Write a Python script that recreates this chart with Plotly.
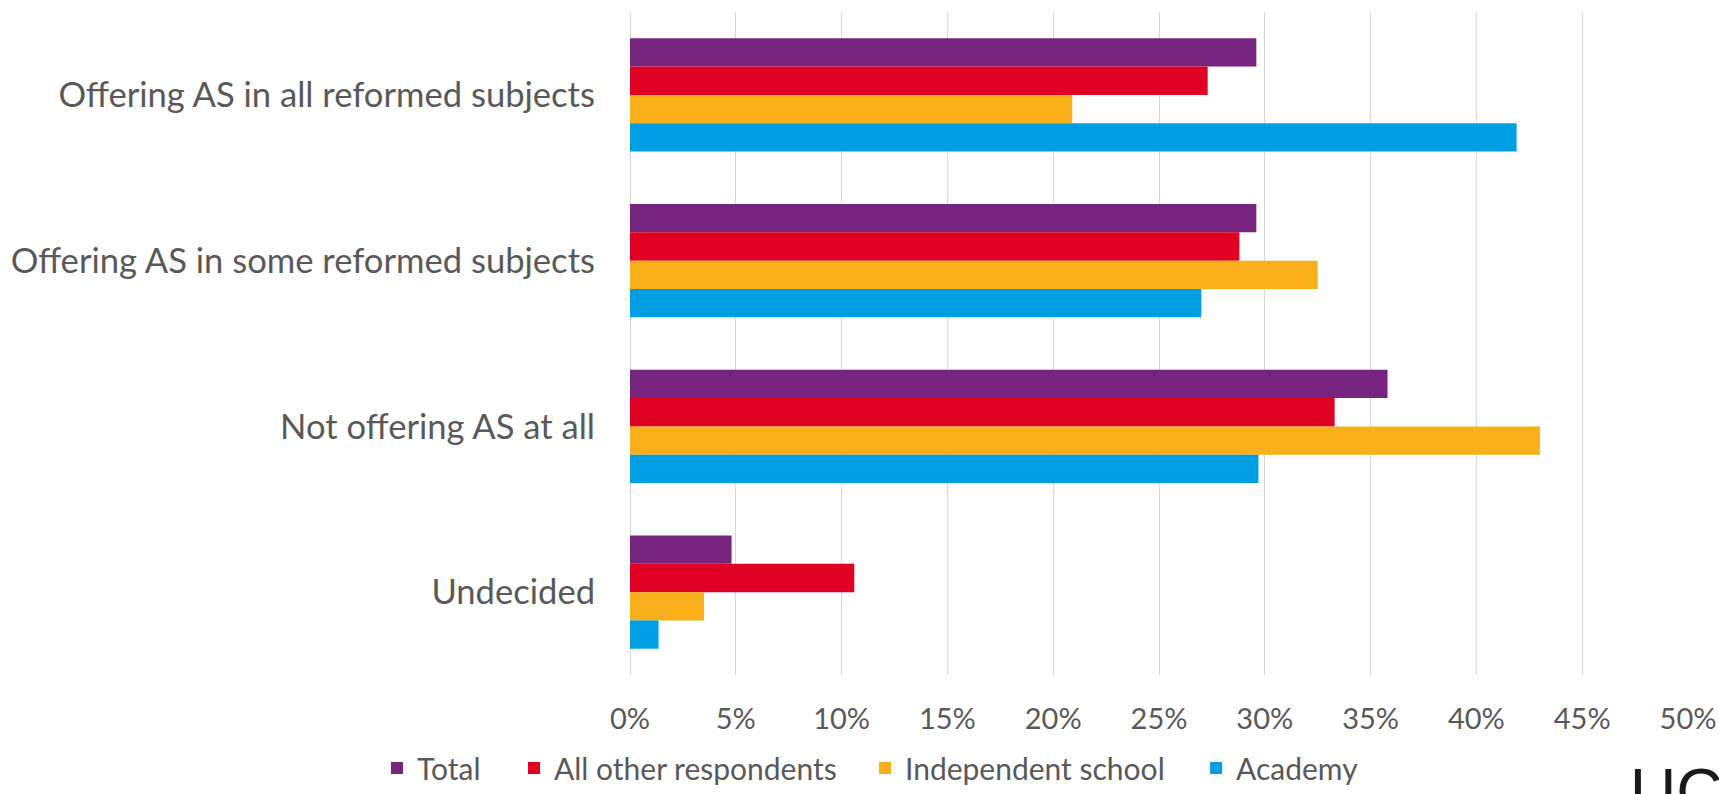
import plotly.graph_objects as go

categories = [
    "Offering AS in all reformed subjects",
    "Offering AS in some reformed subjects",
    "Not offering AS at all",
    "Undecided",
]
series_names = ["Total", "All other respondents", "Independent school", "Academy"]
total = [29.6, 29.6, 35.8, 4.8]
all_other = [27.3, 28.8, 33.3, 10.6]
independent = [20.9, 32.5, 43.0, 3.5]
academy = [41.9, 27.0, 29.7, 1.35]
colors = ["#76247E", "#E00024", "#F9AF1A", "#009FE3"]

series_values = [total, all_other, independent, academy]

FONT = "Lato"
GREY = "#595959"

legend_ids = ["legend", "legend2", "legend3", "legend4"]
legend_x = [0.2193, 0.2990, 0.5032, 0.6958]
legend_w = [80, 300, 280, 135]

fig = go.Figure()
for name, vals, col, lid in zip(series_names, series_values, colors, legend_ids):
    fig.add_trace(go.Bar(
        y=categories, x=vals, name=name, orientation="h",
        marker=dict(color=col, line=dict(width=0)),
        legend=lid,
    ))

layout_legends = {}
for lid, lx, lw in zip(legend_ids, legend_x, legend_w):
    layout_legends[lid] = dict(
        orientation="h", xref="container", yref="container",
        x=lx, xanchor="left", y=0.0, yanchor="bottom",
        font=dict(family=FONT, size=30, color=GREY),
        bgcolor="rgba(0,0,0,0)", borderwidth=0,
        entrywidthmode="pixels", entrywidth=lw,
    )

fig.update_layout(
    width=1719, height=794,
    barmode="group", bargap=0.317, bargroupgap=0,
    plot_bgcolor="white", paper_bgcolor="white",
    margin=dict(l=630, r=31, t=12, b=119, autoexpand=False),
    font=dict(family=FONT, color=GREY),
    showlegend=True,
    xaxis=dict(
        range=[0, 50], dtick=5, ticksuffix="%",
        showgrid=True, gridcolor="#D9D9D9", gridwidth=1.3,
        zeroline=True, zerolinecolor="#D9D9D9", zerolinewidth=1.3,
        showline=False, ticks="", ticklabelstandoff=24,
        tickfont=dict(family=FONT, size=29, color=GREY),
        fixedrange=True, automargin=False,
    ),
    yaxis=dict(
        autorange="reversed", showgrid=False, zeroline=False, showline=False,
        ticks="", ticklabelstandoff=34,
        tickfont=dict(family=FONT, size=34.6, color=GREY),
        fixedrange=True, automargin=False,
    ),
    **layout_legends,
)

fig.add_annotation(
    text="UC", xref="paper", yref="paper", showarrow=False,
    x=1.0, xanchor="left", xshift=-60, y=0, yanchor="top", yshift=-79,
    font=dict(family="Liberation Sans", size=64, color="#1a1a1a"),
)

fig.write_html("out.html")
